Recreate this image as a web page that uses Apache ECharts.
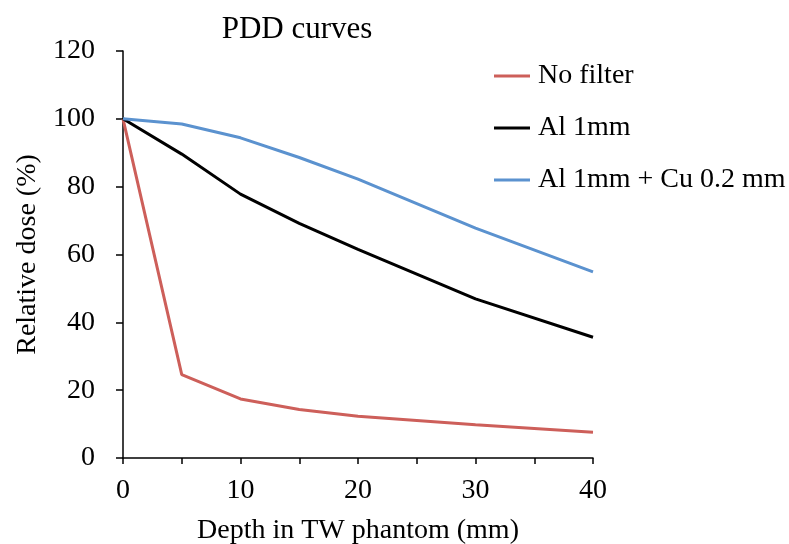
<!DOCTYPE html>
<html><head><meta charset="utf-8">
<script src="https://cdn.jsdelivr.net/npm/echarts@6/dist/echarts.min.js"></script>
<style>html,body{margin:0;padding:0;background:#fff}#c{width:789px;height:544px}</style>
</head><body><div id="c"></div>
<script>
const depths = [0, 5, 10, 15, 20, 30, 40];
const noFilter = [100, 24.6, 17.4, 14.3, 12.3, 9.8, 7.6];
const al1mm = [100, 89.6, 77.8, 69.2, 61.5, 46.9, 35.6];
const al1mmCu = [100, 98.5, 94.4, 88.6, 82.2, 67.8, 54.9];
const xTicks = [0, 10, 20, 30, 40];
const yTicks = [0, 20, 40, 60, 80, 100, 120];
const seriesNames = ['No filter', 'Al 1mm', 'Al 1mm + Cu 0.2 mm'];
const colors = ['#cd5f5a', '#000000', '#5b92cf'];

const font = '"Liberation Serif", "Times New Roman", serif';
const pairs = (ys) => depths.map((d, i) => [d, ys[i]]);
const chart = echarts.init(document.getElementById('c'), null, {renderer: 'canvas'});
chart.setOption({
  animation: false,
  backgroundColor: '#fff',
  title: {text: 'PDD curves', left: 292, top: 9, textAlign: 'center',
    textStyle: {fontFamily: font, fontSize: 31, fontWeight: 'normal', color: '#000'}},
  legend: {orient: 'vertical', left: 489, top: 57, itemGap: 24, itemWidth: 36, itemHeight: 3,
    icon: 'rect',
    textStyle: {fontFamily: font, fontSize: 28, color: '#000', padding: [0, 0, 0, 3]},
    data: seriesNames},
  grid: {left: 123, right: 196, top: 51, bottom: 86, containLabel: false, outerBoundsMode: 'none'},
  xAxis: {type: 'value', min: 0, max: 40, interval: 5,
    name: 'Depth in TW phantom (mm)', nameLocation: 'middle', nameGap: 59,
    nameTextStyle: {fontFamily: font, fontSize: 28, color: '#000'},
    axisLine: {lineStyle: {color: '#000', width: 1.5}},
    axisTick: {length: 6, lineStyle: {color: '#000', width: 1.5}},
    axisLabel: {fontFamily: font, fontSize: 28, color: '#000', margin: 19,
      formatter: v => xTicks.includes(v) ? String(v) : ''},
    splitLine: {show: false}},
  yAxis: {type: 'value', min: 0, max: 120, interval: 20,
    name: 'Relative dose (%)', nameLocation: 'middle', nameGap: 80,
    nameTextStyle: {fontFamily: font, fontSize: 28, color: '#000'},
    axisLine: {show: true, lineStyle: {color: '#000', width: 1.5}},
    axisTick: {show: true, length: 7, lineStyle: {color: '#000', width: 1.5}},
    axisLabel: {fontFamily: font, fontSize: 28, color: '#000', margin: 28,
      formatter: v => yTicks.includes(v) ? String(v) : ''},
    splitLine: {show: false}},
  series: [
    {name: seriesNames[0], type: 'line', data: pairs(noFilter), symbol: 'none',
      lineStyle: {color: colors[0], width: 3}, itemStyle: {color: colors[0]}},
    {name: seriesNames[1], type: 'line', data: pairs(al1mm), symbol: 'none',
      lineStyle: {color: colors[1], width: 3}, itemStyle: {color: colors[1]}},
    {name: seriesNames[2], type: 'line', data: pairs(al1mmCu), symbol: 'none',
      lineStyle: {color: colors[2], width: 3}, itemStyle: {color: colors[2]}}
  ]
});
</script></body></html>
